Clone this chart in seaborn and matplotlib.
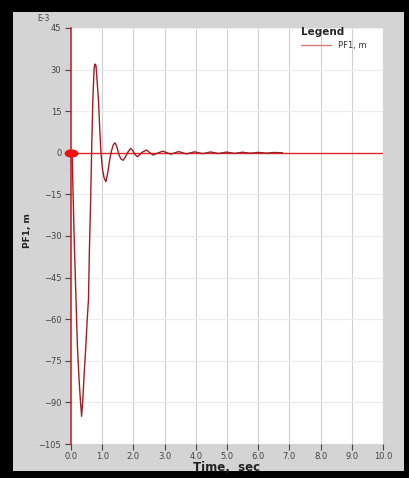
import numpy as np
import pandas as pd
import matplotlib
matplotlib.use("Agg")
import matplotlib.pyplot as plt
import seaborn as sns
from matplotlib.path import Path
from matplotlib.patches import Rectangle

# ==============================
# DATA (PF1 in E-3 m)
# ==============================
time_s = [0.00, 0.04, 0.10, 0.16, 0.21, 0.26, 0.30, 0.34, 0.38, 0.43, 0.47,
          0.52, 0.56, 0.59, 0.63, 0.66, 0.70, 0.74, 0.77, 0.80, 0.83, 0.88,
          0.92, 0.96, 1.01, 1.06, 1.12, 1.18, 1.24, 1.30, 1.36, 1.41, 1.47,
          1.53, 1.60, 1.67, 1.74, 1.82, 1.91, 1.98, 2.05, 2.13, 2.20, 2.28,
          2.42, 2.52, 2.63, 2.78, 2.94, 3.20, 3.45, 3.70, 3.96, 4.22, 4.47,
          4.73, 4.98, 5.24, 5.49, 5.75, 6.00, 6.26, 6.50, 6.78]
pf1 = [0.0, -2.0, -30.0, -53.0, -71.0, -82.0, -89.0, -95.0, -89.0, -78.0, -71.0,
       -60.0, -53.0, -35.0, -17.0, 0.0, 19.0, 30.5, 32.0, 31.5, 27.0, 19.0,
       9.0, 0.0, -6.0, -9.0, -10.4, -7.0, -2.5, 0.8, 3.0, 3.6, 2.2,
       -0.5, -2.2, -2.7, -1.6, 0.2, 1.6, 0.8, -0.6, -1.4, -0.7, 0.2,
       1.0, 0.1, -0.8, -0.1, 0.6, -0.5, 0.45, -0.4, 0.35, -0.3, 0.3,
       -0.25, 0.25, -0.2, 0.2, -0.15, 0.15, -0.12, 0.1, 0.0]

y_ticks = [45, 30, 15, 0, -15, -30, -45, -60, -75, -90, -105]
x_ticks = [0, 1, 2, 3, 4, 5, 6, 7, 8, 9, 10]
x_tick_labels = [f"{t:.1f}" for t in x_ticks]

df = pd.DataFrame({"Time": time_s, "PF1": pf1})

# ==============================
# FIGURE
# ==============================
sns.set_style("white")
plt.rcParams["font.family"] = ["DejaVu Sans"]

fig = plt.figure(figsize=(4.09, 4.78), dpi=100, facecolor="black")
fig.patches.append(Rectangle((13 / 409, 1 - 471 / 478), 391 / 409, 459 / 478,
                             transform=fig.transFigure, facecolor="#d4d4d4",
                             edgecolor="none", zorder=-10))

ax = fig.add_axes([71 / 409, 1 - 444 / 478, 312 / 409, 416 / 478])
ax.set_facecolor("white")

# grid
for xt in x_ticks[1:]:
    ax.axvline(xt, color="#cfcfcf", lw=0.8, zorder=0)
for yt in y_ticks:
    ax.axhline(yt, color="#ececec", lw=0.8, zorder=0)

ax.axhline(0, color="#e02828", lw=1.0, zorder=1)

sns.lineplot(data=df, x="Time", y="PF1", ax=ax, sort=False, color="#9c1f26",
             lw=1.0, label="PF1, m", zorder=3)

# origin marker (flattened red dot)
theta = np.linspace(0, 2 * np.pi, 40)
ell = Path(np.column_stack([np.cos(theta), 0.55 * np.sin(theta)]))
ax.plot([time_s[0]], [pf1[0]], marker=ell, markersize=9, color="#ee1111",
        ls="none", clip_on=False, zorder=5)

ax.set_xlim(0, 10)
ax.set_ylim(-105, 45)
ax.set_xticks(x_ticks)
ax.set_xticklabels(x_tick_labels)
ax.set_yticks(y_ticks)
ax.tick_params(axis="both", labelsize=6, colors="#444444", length=4,
               width=0.8, pad=3, direction="out")
ax.tick_params(axis="x", bottom=True, pad=2)
ax.tick_params(axis="y", left=True)

for s in ["top", "right", "bottom"]:
    ax.spines[s].set_visible(False)
ax.spines["left"].set_color("#d82020")
ax.spines["left"].set_linewidth(1.2)

ax.set_xlabel("Time,  sec", fontsize=8.5, fontweight="bold", color="#222222",
              va="center")
ax.xaxis.set_label_coords(0.5, -0.0565)
ax.set_ylabel("PF1, m", fontsize=6.5, fontweight="bold", color="#222222",
              va="center")
ax.yaxis.set_label_coords(-0.141, 0.512)

ax.text(-0.067, 1.022, "E-3", transform=ax.transAxes, fontsize=5.5,
        color="#444444", ha="right", va="center")

leg = ax.legend(title="Legend", loc="upper left", bbox_to_anchor=(0.725, 1.01),
                frameon=False, fontsize=6, handlelength=3.6, handletextpad=0.9,
                borderaxespad=0.0, labelcolor="#333333")
leg.get_title().set_fontweight("bold")
leg.get_title().set_fontsize(7.5)
leg._legend_box.align = "left"
for h in leg.get_lines():
    h.set_color("#d87a7a")
    h.set_linewidth(1.0)

fig.savefig("out.png", dpi=100, facecolor=fig.get_facecolor())
plt.close(fig)
